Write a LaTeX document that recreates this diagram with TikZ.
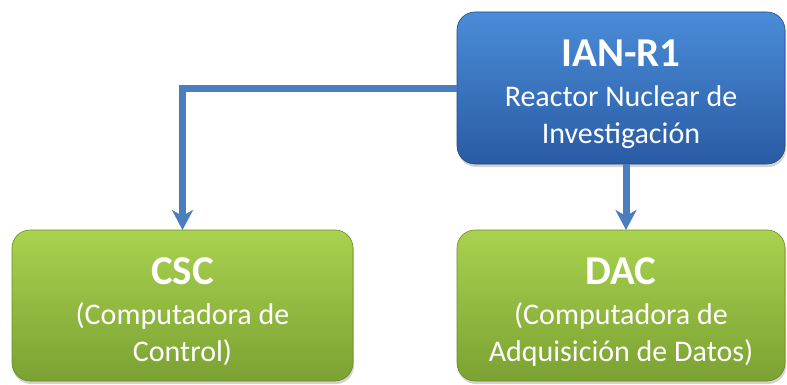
\documentclass[tikz,border=0pt]{standalone}
\usepackage{fontspec}
\setmainfont{Carlito}
\usetikzlibrary{arrows.meta, positioning, shadows}

\definecolor{iantop}{HTML}{4A8CD8}
\definecolor{ianbot}{HTML}{2A5BA4}
\definecolor{leaftop}{HTML}{A9D24F}
\definecolor{leafbot}{HTML}{7BA232}
\definecolor{linkblue}{HTML}{4A7EBF}

\newcommand{\boxtitle}[1]{\rule{0pt}{40pt}{\bfseries\fontsize{41}{41}\selectfont #1}\\[3pt]}

\begin{document}
\begin{tikzpicture}[x=1pt, y=1pt, font=\fontsize{30}{37}\selectfont,
    box/.style={rounded corners=18pt, outer sep=0pt, inner sep=0pt,
      align=center, text=white, line width=0.6pt,
      drop shadow={shadow xshift=1pt, shadow yshift=-3pt, opacity=0.35}},
    reactor/.style={box, draw=ianbot!80!black, top color=iantop,
      bottom color=ianbot, minimum width=328pt, minimum height=152pt},
    computer/.style={box, draw=leafbot!85!black, top color=leaftop,
      bottom color=leafbot, minimum width=328pt, minimum height=151pt},
    link/.style={draw=linkblue, line width=7pt,
      -{Stealth[length=20pt, width=21pt, inset=6pt]}}]
    \useasboundingbox (0,0) rectangle (787,384);

    \node[reactor] (ian) at (621,296)
      {\boxtitle{IAN-R1}Reactor Nuclear de\\Investigación};
    \node[computer, below=66pt of ian] (dac)
      {\boxtitle{DAC}(Computadora de\\Adquisición de Datos)};
    \node[computer, minimum width=341pt, left=104pt of dac] (csc)
      {\boxtitle{CSC}(Computadora de\\Control)};

    \draw[link] (ian.west) -| (csc.north);
    \draw[link] ([xshift=5pt]ian.south) -- ([xshift=5pt]dac.north);
\end{tikzpicture}
\end{document}
